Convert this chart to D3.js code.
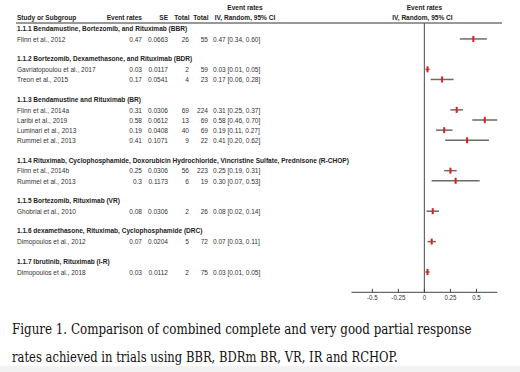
<!DOCTYPE html>
<html>
<head>
<meta charset="utf-8">
<script src="https://cdn.jsdelivr.net/npm/d3@7"></script>
<style>
  body { margin: 0; background: #fff; }
  svg text.n { font-family: "Liberation Sans", Arial, sans-serif; }
</style>
</head>
<body>
<div id="chart"></div>
<script>
// subgroups and their studies
const groups = [
  "1.1.1 Bendamustine, Bortezomib, and Rituximab (BBR)",
  "1.1.2 Bortezomib, Dexamethasone, and Rituximab (BDR)",
  "1.1.3 Bendamustine and Rituximab (BR)",
  "1.1.4 Rituximab, Cyclophosphamide, Doxorubicin Hydrochloride, Vincristine Sulfate, Prednisone (R-CHOP)",
  "1.1.5 Bortezomib, Rituximab (VR)",
  "1.1.6 dexamethasone, Rituximab, Cyclophosphamide (DRC)",
  "1.1.7 Ibrutinib, Rituximab (I-R)"
];
const studyGroup = [0, 1, 1, 2, 2, 2, 2, 3, 3, 4, 5, 6];
const studies = [
  "Flinn et al., 2012", "Gavriatopoulou et al., 2017", "Treon et al., 2015",
  "Flinn et al., 2014a", "Laribi et al.,  2019", "Luminari et al., 2013", "Rummel et al., 2013",
  "Flinn et al., 2014b", "Rummel et al., 2013", "Ghobrial et al., 2010",
  "Dimopoulos et al., 2012", "Dimopoulos et al., 2018"
];
const rateLabels = ["0.47", "0.03", "0.17", "0.31", "0.58", "0.19", "0.41", "0.25", "0.3", "0.08", "0.07", "0.03"];
const rates = [0.47, 0.03, 0.17, 0.31, 0.58, 0.19, 0.41, 0.25, 0.30, 0.08, 0.07, 0.03];
const se = ["0.0663", "0.0117", "0.0541", "0.0306", "0.0612", "0.0408", "0.1071", "0.0306", "0.1173", "0.0306", "0.0204", "0.0112"];
const events = [26, 2, 4, 69, 13, 40, 9, 56, 6, 2, 5, 2];
const totals = [55, 59, 23, 224, 69, 69, 22, 223, 19, 26, 72, 75];
const ciLow = [0.34, 0.01, 0.06, 0.25, 0.46, 0.11, 0.20, 0.19, 0.07, 0.02, 0.03, 0.01];
const ciHigh = [0.60, 0.05, 0.28, 0.37, 0.70, 0.27, 0.62, 0.31, 0.53, 0.14, 0.11, 0.05];
const xTicks = [-0.5, -0.25, 0, 0.25, 0.5];
const tickLabels = ["-0.5", "-0.25", "0", "0.25", "0.5"];
const caption = [
  "Figure 1. Comparison of combined complete and very good partial  response",
  "rates achieved in trials using BBR, BDRm BR, VR, IR and RCHOP."
];

const W = 520, H = 372;
const svg = d3.select("#chart").append("svg")
  .attr("width", W).attr("height", H)
  .attr("viewBox", `0 0 ${W} ${H}`);

const NARROW = 0.82;   // fake Arial Narrow by squeezing Liberation Sans
const fs = 8;
const txt = "#333";

// narrow text helper
function ntext(sel, x, yy, anchor) {
  return sel.append("text")
    .attr("class", "n")
    .attr("transform", `translate(${x},${yy}) scale(${NARROW},1)`)
    .attr("dy", "0.35em")
    .attr("text-anchor", anchor || "start");
}

// row list: header, studies, blank between groups
const rows = [];
groups.forEach((g, gi) => {
  if (gi > 0) rows.push({ type: "blank" });
  rows.push({ type: "group", label: g });
  studies.forEach((s, i) => {
    if (studyGroup[i] === gi) rows.push({ type: "study", i });
  });
});

const y = d3.scaleLinear().domain([0, rows.length - 1]).range([28.8, 272]);
const x = d3.scaleLinear().domain([-0.7, 0.7]).range([351.5, 497.3]);

// column headers
const hdr = svg.append("g").attr("font-weight", "bold").attr("font-size", fs).attr("fill", "#222");
ntext(hdr, 17, 17).text("Study or Subgroup");
ntext(hdr, 142, 17, "end").text("Event rates");
ntext(hdr, 168, 17, "end").text("SE");
ntext(hdr, 189.5, 17, "end").text("Total");
ntext(hdr, 208.5, 17, "end").text("Total");
ntext(hdr, 245, 7, "middle").text("Event rates");
ntext(hdr, 245, 17, "middle").text("IV, Random, 95% CI");
ntext(hdr, x(0), 7, "middle").text("Event rates");
ntext(hdr, x(0) - 2, 17, "middle").text("IV, Random, 95% CI");

svg.append("line")
  .attr("x1", 16).attr("x2", 502).attr("y1", 23).attr("y2", 23)
  .attr("stroke", "#333").attr("stroke-width", 1);

// zero line
svg.append("line")
  .attr("x1", x(0)).attr("x2", x(0)).attr("y1", 23).attr("y2", 292.3)
  .attr("stroke", "#666").attr("stroke-width", 1.2);

// table rows
const rowG = svg.selectAll("g.row").data(rows).enter().append("g")
  .attr("class", "row")
  .attr("transform", (d, k) => `translate(0,${y(k)})`)
  .attr("font-size", fs);

rowG.filter(d => d.type === "group").each(function(d) {
  ntext(d3.select(this), 17, -0.8).attr("font-weight", "bold").attr("fill", "#222").text(d.label);
});

const st = rowG.filter(d => d.type === "study");
st.each(function(d) {
  const g = d3.select(this).attr("fill", txt);
  const i = d.i;
  ntext(g, 17, 0).text(studies[i]);
  ntext(g, 142, 0, "end").text(rateLabels[i]);
  ntext(g, 168, 0, "end").text(se[i]);
  ntext(g, 189, 0, "end").text(events[i]);
  ntext(g, 208, 0, "end").text(totals[i]);
  ntext(g, 213, 0).text(`${rates[i].toFixed(2)} [${ciLow[i].toFixed(2)}, ${ciHigh[i].toFixed(2)}]`);
});

// confidence intervals and point estimates
st.append("line")
  .attr("x1", d => x(ciLow[d.i])).attr("x2", d => x(ciHigh[d.i]))
  .attr("stroke", "#6b6b6b").attr("stroke-width", 1.5);
st.append("rect")
  .attr("x", d => x(rates[d.i]) - 1).attr("y", -3)
  .attr("width", 2).attr("height", 6)
  .attr("fill", "#e31b1b");

// axis
const axisG = svg.append("g").attr("transform", "translate(0,292.3)");
axisG.append("line")
  .attr("x1", x.range()[0]).attr("x2", x.range()[1])
  .attr("stroke", "#444").attr("stroke-width", 1);
axisG.selectAll("line.tick").data(xTicks).enter().append("line")
  .attr("class", "tick")
  .attr("x1", d => x(d)).attr("x2", d => x(d))
  .attr("y1", -3.5).attr("y2", 0)
  .attr("stroke", "#444");
const tl = axisG.append("g").attr("font-size", 7.5).attr("fill", "#333");
xTicks.forEach((t, k) => ntext(tl, x(t), 5.5, "middle").text(tickLabels[k]));

// caption, squeezed to the reference line widths
const capW = [460, 386];
svg.selectAll("text.cap").data(caption).enter().append("text")
  .attr("class", "cap")
  .attr("dy", "0.35em")
  .style("font-family", "'DejaVu Serif', 'Liberation Serif', serif")
  .attr("font-size", 14.5).attr("fill", "#111")
  .text(d => d)
  .each(function(d, k) {
    const w = this.getComputedTextLength();
    d3.select(this).attr("transform", `translate(12,${329 + k * 28}) scale(${capW[k] / w},1)`);
  });

svg.append("rect")
  .attr("x", 0).attr("y", 366).attr("width", W).attr("height", 6)
  .attr("fill", "#f2f2f2");
</script>
</body>
</html>
